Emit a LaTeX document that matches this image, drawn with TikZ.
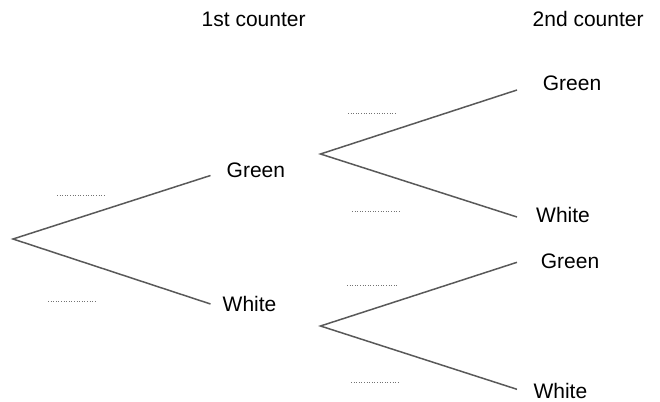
\documentclass[tikz,border=0pt]{standalone}
\usepackage{fontspec}
\setmainfont{Liberation Sans}
\begin{document}
\begin{tikzpicture}[x=1bp,y=1bp,
  branch/.style={draw=black!65,line width=1.5bp},
  blank/.style={draw=black!55,line width=1bp,dash pattern=on 1bp off 1.6bp},
  lbl/.style={anchor=base west,inner sep=0pt,font=\fontsize{21bp}{24bp}\selectfont}]
\useasboundingbox (0,0) rectangle (660,401);
% headings
\node[lbl] (h1) at (201.5,375) {1st counter};
\node[lbl] (h2) at (532.5,375) {2nd counter};
% branch points
\coordinate (r)  at (13,162);
\coordinate (g1) at (210.5,225.5);
\coordinate (w1) at (210.5,97);
\coordinate (gb) at (320.5,247);
\coordinate (wb) at (320.5,75);
\coordinate (gg) at (517,311);
\coordinate (gw) at (517,184);
\coordinate (wg) at (517,138.7);
\coordinate (ww) at (517,11.7);
% labels
\node[lbl] (tg1) at (226.5,223.3) {Green};
\node[lbl] (tw1) at (222.5,89.3) {White};
\node[lbl] (tgg) at (542.7,311) {Green};
\node[lbl] (tgw) at (536,179) {White};
\node[lbl] (twg) at (540.7,132.7) {Green};
\node[lbl] (tww) at (533.3,2.5) {White};
% branches
\draw[branch] (g1) -- (r) -- (w1);
\draw[branch] (gg) -- (gb) -- (gw);
\draw[branch] (wg) -- (wb) -- (ww);
% answer blanks
\coordinate (b1a) at (57,206); \coordinate (b1b) at (105,206);
\coordinate (b2a) at (48,100); \coordinate (b2b) at (96,100);
\coordinate (b3a) at (348,288); \coordinate (b3b) at (397,288);
\coordinate (b4a) at (352,190); \coordinate (b4b) at (399,190);
\coordinate (b5a) at (347,115.3); \coordinate (b5b) at (397,115.3);
\coordinate (b6a) at (351,18.3); \coordinate (b6b) at (399,18.3);
\draw[blank] (b1a) -- (b1b);
\draw[blank] (b2a) -- (b2b);
\draw[blank] (b3a) -- (b3b);
\draw[blank] (b4a) -- (b4b);
\draw[blank] (b5a) -- (b5b);
\draw[blank] (b6a) -- (b6b);
\end{tikzpicture}
\end{document}
